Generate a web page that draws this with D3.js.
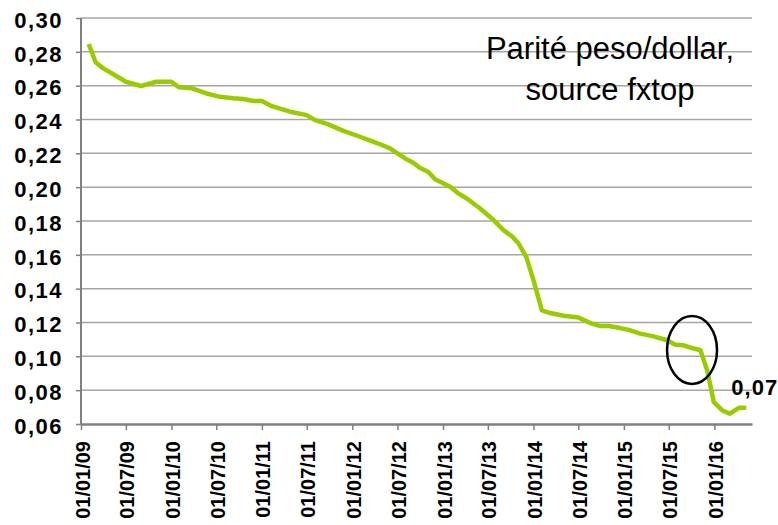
<!DOCTYPE html>
<html>
<head>
<meta charset="utf-8">
<script src="https://cdn.jsdelivr.net/npm/d3@7"></script>
<style>
  body { margin: 0; background: #fff; }
  svg { display: block; font-family: "Liberation Sans", Arial, sans-serif; }
  .axis text { font-weight: bold; fill: #000; font-family: "Liberation Sans", Arial, sans-serif; }
  .axis path, .axis line { stroke: #808080; }
</style>
</head>
<body>
<svg class="chart"></svg>
<script>
const W = 778, H = 525;
const margin = {top: 18, right: 26, bottom: 101, left: 81},
      width = W - margin.left - margin.right,   // 671
      height = H - margin.top - margin.bottom;  // 406

// peso/dollar rate
const dates = [
  "2009-02-01","2009-03-01","2009-04-01","2009-05-10","2009-07-01","2009-09-01","2009-11-01",
  "2010-01-01","2010-02-01","2010-03-25","2010-05-23","2010-07-16","2010-09-08","2010-10-18",
  "2010-11-27","2011-01-01","2011-02-10","2011-04-25","2011-07-01","2011-08-04","2011-09-26",
  "2011-11-26","2012-02-01","2012-03-19","2012-04-15","2012-06-01","2012-08-01","2012-09-03",
  "2012-09-30","2012-11-03","2012-11-30","2013-01-30","2013-03-04","2013-04-07","2013-05-31",
  "2013-07-17","2013-09-02","2013-10-06","2013-11-02","2013-12-03","2014-01-01","2014-02-04",
  "2014-03-10","2014-05-03","2014-07-02","2014-08-25","2014-09-28","2014-11-01","2014-12-17",
  "2015-01-27","2015-03-08","2015-05-01","2015-06-24","2015-07-28","2015-08-30","2015-10-03",
  "2015-11-06","2015-12-03","2015-12-30","2016-02-02","2016-03-04","2016-04-09","2016-05-09"
];
const rates = [
  0.2846,0.2738,0.2702,0.2669,0.2623,0.2598,0.2623,
  0.2623,0.2590,0.2584,0.2554,0.2534,0.2525,0.2521,
  0.2509,0.2509,0.2479,0.2446,0.2426,0.2396,0.2371,
  0.2333,0.2298,0.2272,0.2258,0.2229,0.2170,0.2144,
  0.2114,0.2090,0.2047,0.2002,0.1963,0.1933,0.1874,
  0.1815,0.1746,0.1710,0.1667,0.1588,0.1450,0.1272,
  0.1256,0.1240,0.1229,0.1193,0.1179,0.1179,0.1167,
  0.1154,0.1134,0.1118,0.1095,0.1069,0.1065,0.1049,
  0.1036,0.0917,0.0729,0.0680,0.0661,0.0696,0.0696
];
const yTicks = [0.06,0.08,0.10,0.12,0.14,0.16,0.18,0.20,0.22,0.24,0.26,0.28,0.30];
const xTicks = ["2009-01-01","2009-07-01","2010-01-01","2010-07-01","2011-01-01","2011-07-01",
  "2012-01-01","2012-07-01","2013-01-01","2013-07-01","2014-01-01","2014-07-01",
  "2015-01-01","2015-07-01","2016-01-01"];
const titleLines = ["Parité peso/dollar,", "source fxtop"];
const lastLabel = "0,07";

const parse = d3.timeParse("%Y-%m-%d");
const data = dates.map((d, i) => ({date: parse(d), rate: rates[i]}));

const fr = d3.formatLocale({decimal: ",", thousands: " ", grouping: [3], currency: ["", ""]});

let x = d3.scaleTime()
          .domain([parse("2009-01-01"), parse("2016-06-01")])
          .range([0, width]);
let y = d3.scaleLinear()
          .domain([0.06, 0.30])
          .range([height, 0]);

let svg = d3.select(".chart").attr("width", W).attr("height", H);
let chart = svg.append("g")
               .attr("transform", "translate(" + margin.left + "," + margin.top + ")");

// horizontal gridlines
chart.append("g")
     .selectAll("line")
     .data(yTicks.slice(1))
     .enter().append("line")
     .attr("x1", 0).attr("x2", width)
     .attr("y1", d => y(d)).attr("y2", d => y(d))
     .style("stroke", "#a6a6a6")
     .style("stroke-width", 1.5);

// y-Axis
let yAxis = chart.append("g")
     .attr("class", "axis")
     .call(d3.axisLeft(y).tickValues(yTicks).tickFormat(fr.format(".2f")).tickSize(5).tickPadding(15));
yAxis.select(".domain").remove();
yAxis.selectAll("text")
     .style("font-size", "22px")
     .style("letter-spacing", "1.5px")
     .attr("x", -18)
     .attr("dy", "0.42em");
yAxis.selectAll("line").style("stroke-width", 1.5);
chart.append("line")
     .attr("x1", 0).attr("x2", 0).attr("y1", 0).attr("y2", height)
     .style("stroke", "#808080").style("stroke-width", 2);

// x-Axis
let xAxis = chart.append("g")
     .attr("class", "axis")
     .attr("transform", "translate(0," + height + ")")
     .call(d3.axisBottom(x).tickValues(xTicks.map(parse)).tickFormat(d3.timeFormat("%d/%m/%y")).tickSize(6).tickSizeOuter(0));
xAxis.select(".domain").style("stroke-width", 2.5);
xAxis.selectAll("line").style("stroke-width", 1.5);
xAxis.selectAll("text")
     .style("font-size", "20px")
     .attr("transform", "rotate(-90)")
     .attr("text-anchor", "end")
     .attr("x", -17)
     .attr("y", 1)
     .attr("dy", "0.35em");

// rate line
let line = d3.line()
             .x(d => x(d.date))
             .y(d => y(d.rate));
chart.append("path")
     .datum(data)
     .attr("d", line)
     .style("fill", "none")
     .style("stroke", "#99cc00")
     .style("stroke-width", 4.5)
     .style("stroke-linejoin", "round");

// circle around the mid-2015 drop
let circ = data[55];
chart.append("ellipse")
     .attr("cx", x(circ.date))
     .attr("cy", y(circ.rate) + 2)
     .attr("rx", 25)
     .attr("ry", 34)
     .style("fill", "none")
     .style("stroke", "#000")
     .style("stroke-width", 2.5);

// last value label
let last = data[data.length - 1];
chart.append("text")
     .attr("x", x(last.date) - 15)
     .attr("y", y(last.rate) - 13)
     .style("font-size", "22px")
     .style("font-weight", "bold")
     .style("letter-spacing", "1px")
     .text(lastLabel);

// title
chart.append("text")
     .attr("x", 610 - margin.left)
     .attr("y", 59 - margin.top)
     .style("font-size", "31px")
     .style("text-anchor", "middle")
     .selectAll("tspan")
     .data(titleLines)
     .enter().append("tspan")
     .attr("x", 610 - margin.left)
     .attr("dy", (d, i) => i ? 41 : 0)
     .text(d => d);
</script>
</body>
</html>
